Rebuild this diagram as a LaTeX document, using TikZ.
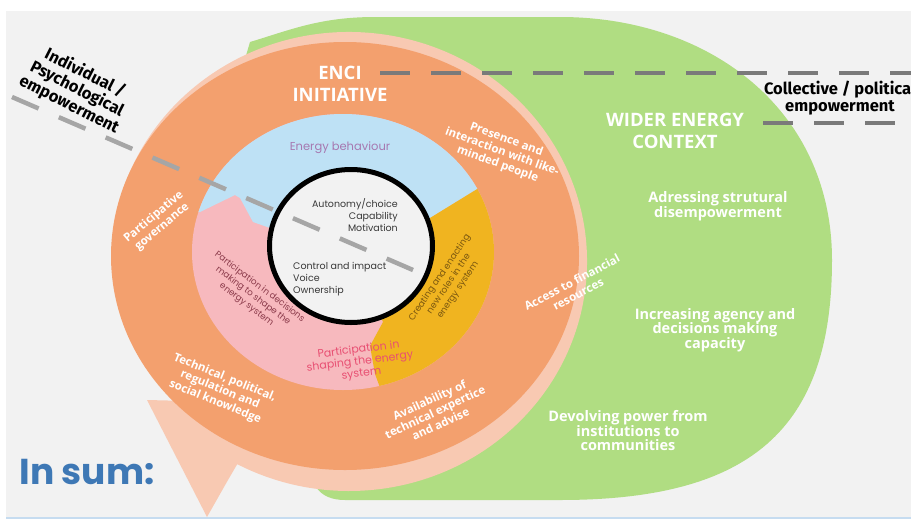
\documentclass[tikz,border=0pt]{standalone}
\usepackage{fontspec}
\setmainfont{Open Sans}
\newfontfamily\popp{Poppins}
\newfontfamily\fira{Fira Sans}
\definecolor{bgc}{HTML}{F2F2F2}
\definecolor{greenc}{HTML}{B0DD82}
\definecolor{orangec}{HTML}{F3A06E}
\definecolor{peachc}{HTML}{F8C9B2}
\definecolor{bluec}{HTML}{BEE1F5}
\definecolor{pinkc}{HTML}{F7B9BE}
\definecolor{yellowc}{HTML}{F0B420}
\definecolor{innerc}{HTML}{F2F2F2}
\definecolor{sumblue}{HTML}{3E78B5}
\definecolor{purplec}{HTML}{A678B0}
\definecolor{maroonc}{HTML}{8B3A4A}
\definecolor{hotpink}{HTML}{E84F72}
\definecolor{brownc}{HTML}{7A5710}
\definecolor{linec}{HTML}{C6DCF0}
\tikzset{
  wlab/.style={text=white, font=\bfseries\fontsize{11.5}{13}\selectfont, align=center, inner sep=0pt},
  glab/.style={text=white, font=\bfseries\fontsize{14.5}{14.5}\selectfont, align=center, inner sep=0pt},
  head/.style={text=white, font=\bfseries\fontsize{18.5}{22}\selectfont, align=center, inner sep=0pt},
  blab/.style={text=black, font=\fira\bfseries\fontsize{16.5}{17.5}\selectfont, align=center, inner sep=0pt},
  ilab/.style={text=black!78, font=\popp\fontsize{9.5}{12}\selectfont, inner sep=0pt},
  diagdash/.style={line width=4.5pt, draw=black!35, dash pattern=on 29pt off 22pt},
  topdash/.style={line width=4pt, draw=black!52, dash pattern=on 30pt off 21pt},
}
\begin{document}
\begin{tikzpicture}[x=1pt,y=-1pt]
\useasboundingbox (0,0) rectangle (911,520);
\fill[white] (0,0) rectangle (911,520);
\fill[bgc] (6,11) rectangle (911,517);
\fill[linec] (6,517) rectangle (911,519);
% green wider context
\fill[greenc] (250,42) .. controls (290,30) and (320,17) .. (375,17) -- (560,17)
  .. controls (710,17) and (832,110) .. (832,260)
  .. controls (832,430) and (750,500) .. (560,500) -- (345,500)
  .. controls (332,500) and (322,496) .. (316,487) -- (260,300) -- (230,110) -- cycle;
% peach circular arrow
\fill[peachc] (349,261.5) ++(190:238 and 229.5)
  arc[start angle=190, end angle=478, x radius=238, y radius=229.5]
  -- (228,480) -- (207,517) -- (147,400) -- (272,403) -- (345,256) -- cycle;
% orange ENCI disc
\fill[orangec] (345,256) ellipse [x radius=234, y radius=214];
% inner coloured disc
\begin{scope}
  \clip (343,252) ellipse [x radius=151, y radius=138];
  \fill[pinkc] (150,80) rectangle (520,420);
  \fill[bluec] (150,215) -- (200,212) -- (235,195) -- (240,198) -- (253,222) -- (270,228)
    -- (351,246) -- (430,218) -- (500,175) -- (520,175) -- (520,80) -- (150,80) -- cycle;
  \fill[yellowc] (351,246) -- (430,218) -- (500,175) -- (520,175) -- (520,420) -- (392,420)
    -- (375,374) -- (370,346) -- (383,322) -- cycle;
\end{scope}
% black circle
\draw[line width=5pt, fill=innerc] (351,246) ellipse [x radius=81.5, y radius=76.5];
% dashed lines
\coordinate (d1s) at (12,97);
\coordinate (d1e) at (413,270);
\coordinate (d2s) at (380,73);
\coordinate (d2e) at (915,73);
\coordinate (d3s) at (763,123);
\coordinate (d3e) at (897,123);
\draw[diagdash] (d1s) -- (d1e);
\draw[topdash] (d2s) -- (d2e);
\draw[topdash] (d3s) -- (d3e);
% headings
\node[head] (enci) at (340,84) {ENCI\\INITIATIVE};
\node[head] (wider) at (675,131) {WIDER ENERGY\\CONTEXT};
\node[blab] (coll) at (840,98) {Collective / political\\empowerment};
\node[blab, rotate=-27] (indiv) at (77,89) {Individual /\\Psychological\\empowerment};
% green labels
\node[glab] (adress) at (718,206) {Adressing strutural\\disempowerment};
\node[glab] (incr) at (715,330) {Increasing agency and\\decisions making\\capacity};
\node[glab] (devol) at (628,431) {Devolving power from\\institutions to\\communities};
% orange ring labels
\node[wlab, rotate=-20] (pres) at (502,152) {Presence and\\interaction with like-\\minded people};
\node[wlab, rotate=40] (pgov) at (158,222) {Participative\\governance};
\node[wlab, rotate=-22] (tech) at (220,390) {Technical, political,\\regulation and\\social knowledge};
\node[wlab, rotate=25] (avail) at (435,412) {Availability of\\technical expertice\\and advise};
\node[wlab, rotate=28] (access) at (575,288) {Access to financial\\resources};
% inner labels
\node[ilab, text=purplec, font=\popp\fontsize{11.5}{13}\selectfont] (eb) at (340,148) {Energy behaviour};
\node[ilab, align=right, anchor=east] (auto) at (398,215) {Autonomy/choice\\Capability\\Motivation};
\node[ilab, align=left, anchor=west] (ctrl) at (293,279) {Control and impact\\Voice\\Ownership};
\node[ilab, text=maroonc, align=center, rotate=-37, font=\popp\fontsize{8.8}{11}\selectfont] (pdec) at (253,296) {Participation in decisions\\making to shape the\\energy system};
\node[ilab, text=hotpink, align=center, rotate=7, font=\popp\fontsize{11}{12}\selectfont] (pshape) at (360,362) {Participation in\\shaping the energy\\system};
\node[ilab, text=brownc, align=center, rotate=56, font=\popp\fontsize{9}{11}\selectfont] (creat) at (449,284) {Creating and enacting\\new roles in the\\energy system};
% in sum
\node[text=sumblue, font=\popp\bfseries\fontsize{36}{40}\selectfont, inner sep=0pt] (insum) at (87,472) {In sum:};
\end{tikzpicture}
\end{document}
